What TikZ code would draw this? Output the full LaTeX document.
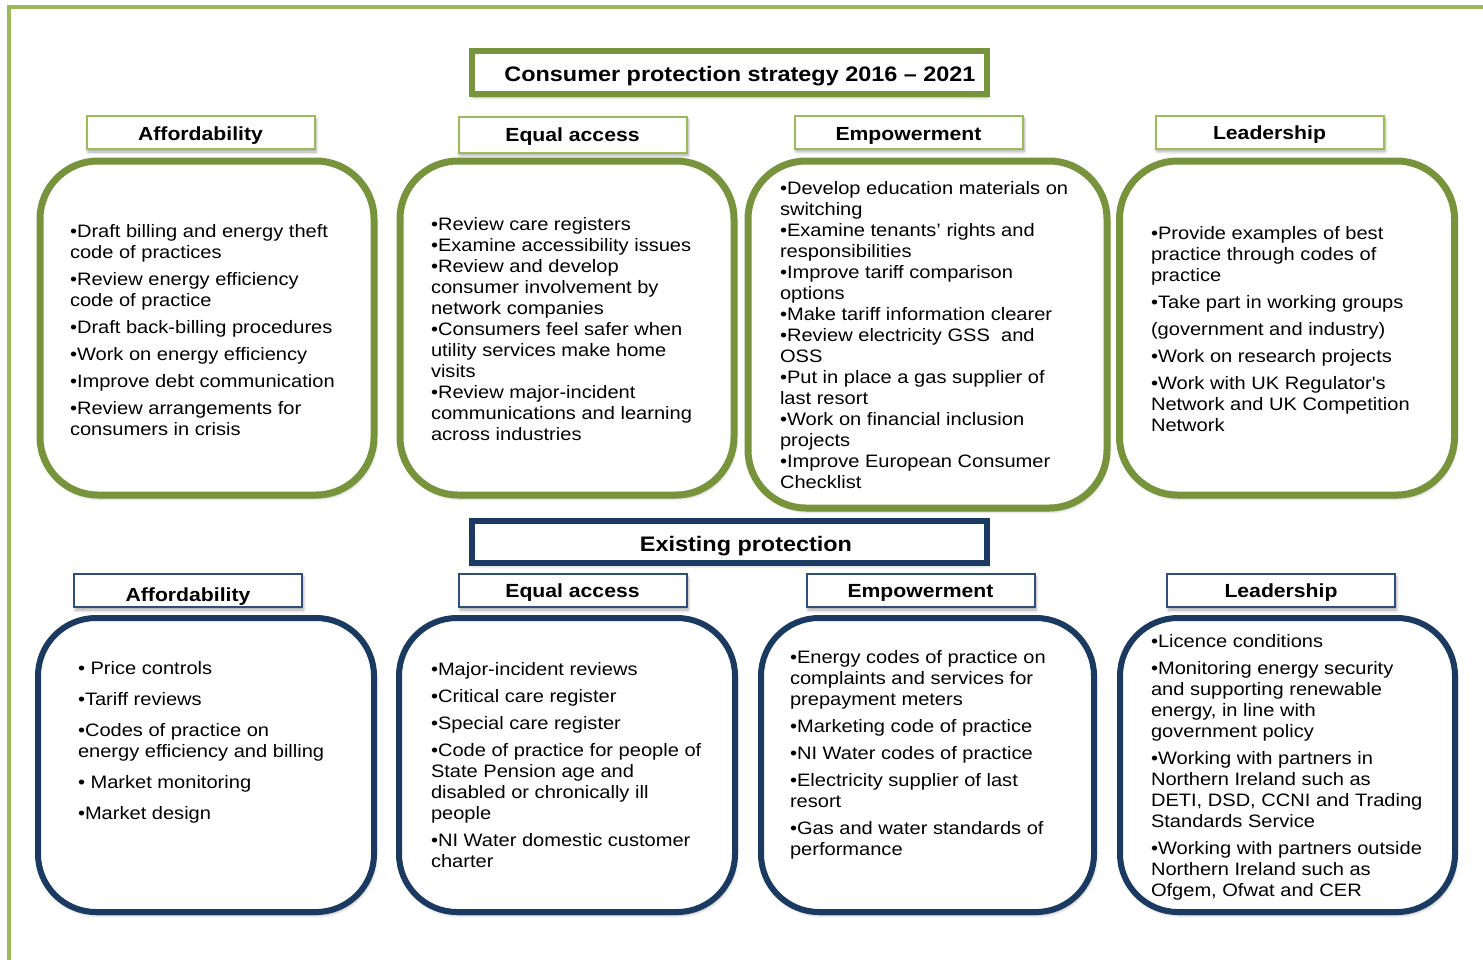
\documentclass[tikz,border=0pt]{standalone}
\usepackage{fontspec}
\setmainfont{Liberation Sans}
% Arial-metric face, set slightly wide
\newfontfamily\bodyfont[FakeStretch=1.115]{Liberation Sans}
\usetikzlibrary{shadows.blur}

\definecolor{framegreen}{HTML}{9BBB59}
\definecolor{olive}{HTML}{77933C}
\definecolor{navy}{HTML}{1B3A62}
\definecolor{navylite}{HTML}{2E4F7A}

\tikzset{
  every node/.style={inner sep=0pt, outer sep=0pt},
  softshadow/.style={blur shadow={shadow xshift=1.5pt, shadow yshift=-3pt,
      shadow blur radius=3pt, shadow blur steps=6, shadow opacity=35}},
  panel/.style={fill=white, rounded corners=58pt, softshadow},
  greenpanel/.style={panel, draw=olive, line width=7pt},
  navypanel/.style={panel, draw=navy, line width=6pt},
  banner/.style={fill=white, softshadow, minimum width=515pt},
  greenbanner/.style={banner, draw=olive, line width=6pt, minimum height=43pt},
  navybanner/.style={banner, draw=navy, line width=6pt, minimum height=42pt},
  tag/.style={fill=white, softshadow, line width=2pt, minimum width=228pt, minimum height=33pt},
  greentag/.style={tag, draw=framegreen},
  navytag/.style={tag, draw=navylite},
  headtext/.style={font=\bodyfont\bfseries\fontsize{21}{25}\selectfont, anchor=base},
  tagtext/.style={font=\bodyfont\bfseries\fontsize{19}{23}\selectfont, anchor=base},
  itemtext/.style={font=\bodyfont\fontsize{18}{21}\selectfont, anchor=base west},
}

\begin{document}
\begin{tikzpicture}[x=1pt, y=-1pt]
  \useasboundingbox (0,0) rectangle (1483,959);
  \clip (0,0) rectangle (1483,959);

  % outer frame, running off the right and bottom edges
  \draw[framegreen, line width=4pt] (8.7,1100) -- (8.7,7) -- (1600,7);

  % ---------------- strategy 2016-2021 ----------------
  \node[greenbanner] (strategy) at (729,72.5) {};
  \node[headtext] (strategyText) at (740,81.5) {Consumer protection strategy 2016 – 2021};

  \node[greentag] (sAffTag)  at (200.5,132.5) {};
  \node[greentag, minimum height=36pt] (sEqTag) at (572.5,134.5) {};
  \node[greentag] (sEmpTag)  at (908.5,132) {};
  \node[greentag] (sLeadTag) at (1269.5,132) {};
  \node[tagtext] (sAffLbl)  at (200.5,140.7) {Affordability};
  \node[tagtext] (sEqLbl)   at (572.5,141) {Equal access};
  \node[tagtext] (sEmpLbl)  at (908.5,140) {Empowerment};
  \node[tagtext] (sLeadLbl) at (1269.5,139.5) {Leadership};

  \node[greenpanel, minimum width=334pt, minimum height=334pt] (sAff)  at (207,328) {};
  \node[greenpanel, minimum width=334pt, minimum height=334pt] (sEq)   at (567,328) {};
  \node[greenpanel, minimum width=359pt, minimum height=347pt] (sEmp)  at (927.5,334.5) {};
  \node[greenpanel, minimum width=335pt, minimum height=334pt] (sLead) at (1287,328) {};

  \node[itemtext] (sAffText) at (70,237) {\parbox[t]{300pt}{\raggedright
    •Draft billing and energy theft\\ code of practices\\[6pt]
    •Review energy efficiency\\ code of practice\\[6pt]
    •Draft back-billing procedures\\[6pt]
    •Work on energy efficiency\\[6pt]
    •Improve debt communication\\[6pt]
    •Review arrangements for\\ consumers in crisis}};

  \node[itemtext] (sEqText) at (431,230) {\parbox[t]{300pt}{\raggedright
    •Review care registers\\
    •Examine accessibility issues\\
    •Review and develop\\ consumer involvement by\\ network companies\\
    •Consumers feel safer when\\ utility services make home\\ visits\\
    •Review major-incident\\ communications and learning\\ across industries}};

  \node[itemtext] (sEmpText) at (780,194) {\parbox[t]{320pt}{\raggedright
    •Develop education materials on\\ switching\\
    •Examine tenants’ rights and\\ responsibilities\\
    •Improve tariff comparison\\ options\\
    •Make tariff information clearer\\
    •Review electricity GSS\ \ and\\ OSS\\
    •Put in place a gas supplier of\\ last resort\\
    •Work on financial inclusion\\ projects\\
    •Improve European Consumer\\ Checklist}};

  \node[itemtext] (sLeadText) at (1151,239) {\parbox[t]{300pt}{\raggedright
    •Provide examples of best\\ practice through codes of\\ practice\\[6.2pt]
    •Take part in working groups\\[6.2pt]
    (government and industry)\\[6.2pt]
    •Work on research projects\\[6.2pt]
    •Work with UK Regulator's\\ Network and UK Competition\\ Network}};

  % ---------------- existing protection ----------------
  \node[navybanner] (existing) at (729,541.5) {};
  \node[headtext] (existingText) at (746,551) {Existing protection};

  \node[navytag] (eAffTag)  at (188,590.5) {};
  \node[navytag] (eEqTag)   at (572.5,590.5) {};
  \node[navytag] (eEmpTag)  at (920.5,590.5) {};
  \node[navytag] (eLeadTag) at (1281,590.5) {};
  \node[tagtext] (eAffLbl)  at (188,601.7) {Affordability};
  \node[tagtext] (eEqLbl)   at (572.5,597.3) {Equal access};
  \node[tagtext] (eEmpLbl)  at (920.5,597.3) {Empowerment};
  \node[tagtext] (eLeadLbl) at (1281,597.3) {Leadership};

  \node[navypanel, minimum width=336pt, minimum height=294pt] (eAff)  at (206,765) {};
  \node[navypanel, minimum width=336pt, minimum height=294pt] (eEq)   at (567,765) {};
  \node[navypanel, minimum width=333pt, minimum height=294pt] (eEmp)  at (927.5,765) {};
  \node[navypanel, minimum width=335pt, minimum height=294pt] (eLead) at (1287.5,765) {};

  \node[itemtext] (eAffText) at (78,674) {\parbox[t]{300pt}{\raggedright
    • Price controls\\[10pt]
    •Tariff reviews\\[10pt]
    •Codes of practice on\\ energy efficiency and billing\\[10pt]
    • Market monitoring\\[10pt]
    •Market design}};

  \node[itemtext] (eEqText) at (431,675) {\parbox[t]{300pt}{\raggedright
    •Major-incident reviews\\[6.2pt]
    •Critical care register\\[6.2pt]
    •Special care register\\[6.2pt]
    •Code of practice for people of\\ State Pension age and\\ disabled or chronically ill\\ people\\[6.2pt]
    •NI Water domestic customer\\ charter}};

  \node[itemtext] (eEmpText) at (790,663) {\parbox[t]{300pt}{\raggedright
    •Energy codes of practice on\\ complaints and services for\\ prepayment meters\\[6.2pt]
    •Marketing code of practice\\[6.2pt]
    •NI Water codes of practice\\[6.2pt]
    •Electricity supplier of last\\ resort\\[6.2pt]
    •Gas and water standards of\\ performance}};

  \node[itemtext] (eLeadText) at (1151,647) {\parbox[t]{300pt}{\raggedright
    •Licence conditions\\[6.2pt]
    •Monitoring energy security\\ and supporting renewable\\ energy, in line with\\ government policy\\[6.2pt]
    •Working with partners in\\ Northern Ireland such as\\ DETI, DSD, CCNI and Trading\\ Standards Service\\[6.2pt]
    •Working with partners outside\\ Northern Ireland such as\\ Ofgem, Ofwat and CER}};
\end{tikzpicture}
\end{document}
